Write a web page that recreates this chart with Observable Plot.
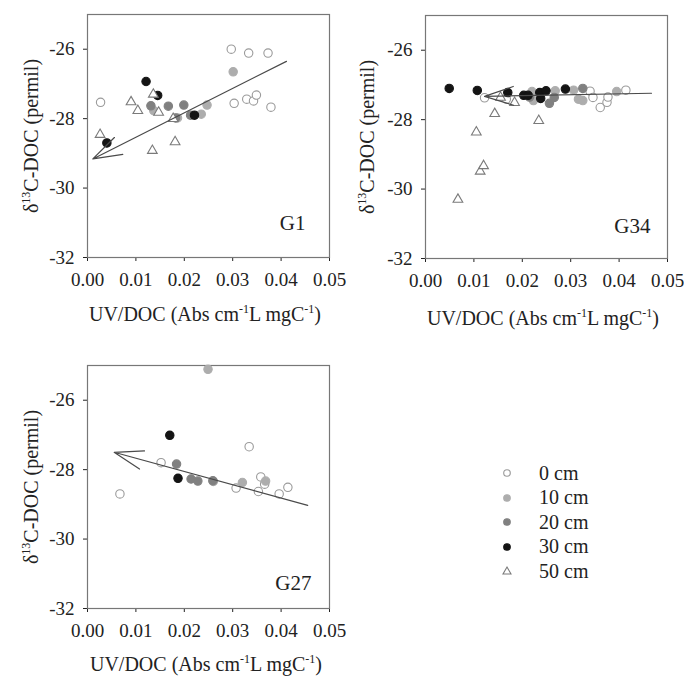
<!DOCTYPE html>
<html>
<head>
<meta charset="utf-8">
<script src="https://cdn.jsdelivr.net/npm/d3@7"></script>
<script src="https://cdn.jsdelivr.net/npm/@observablehq/plot@0.6"></script>
<style>
  body { margin: 0; background: white; }
  #wrap { position: relative; width: 684px; height: 679px; font-family: "Liberation Serif", "Times New Roman", serif; color: #222; }
  #wrap svg { position: absolute; overflow: visible; }
  .ytitle { position: absolute; white-space: nowrap; font-size: 20px; transform: translate(-50%, -50%) rotate(-90deg); }
  .xtitle { position: absolute; white-space: nowrap; font-size: 20px; transform: translate(-50%, -50%); }
  sup { font-size: 0.6em; vertical-align: 0.6em; line-height: 0; }
  .leg { position: absolute; left: 500px; top: 461px; font-size: 20px; }
  .leg div { height: 24.5px; display: flex; align-items: center; }
  .leg svg { position: static !important; margin-right: 25px; }
</style>
</head>
<body>
<div id="wrap"></div>
<script>
// ---- data ----
const depthLabels = ["0 cm", "10 cm", "20 cm", "30 cm", "50 cm"];
const xTicks = [0, 0.01, 0.02, 0.03, 0.04, 0.05];
const yTicks = [-32, -30, -28, -26];

// Panel G1
const g1Depth = ["0 cm","0 cm","0 cm","0 cm","0 cm","0 cm","0 cm","0 cm","0 cm",
  "10 cm","10 cm","10 cm","10 cm","10 cm",
  "20 cm","20 cm","20 cm","20 cm","20 cm",
  "30 cm","30 cm","30 cm","30 cm",
  "50 cm","50 cm","50 cm","50 cm","50 cm","50 cm","50 cm","50 cm"];
const g1X = [0.0027,0.0297,0.0333,0.0373,0.0303,0.0329,0.0343,0.0349,0.0379,
  0.0301,0.0247,0.0235,0.0137,0.0186,
  0.0131,0.0167,0.0199,0.0213,0.0182,
  0.0121,0.0145,0.0040,0.0221,
  0.0026,0.0090,0.0104,0.0136,0.0147,0.0134,0.0181,0.0177];
const g1Y = [-27.53,-26.00,-26.11,-26.11,-27.56,-27.44,-27.49,-27.32,-27.67,
  -26.65,-27.61,-27.87,-27.77,-27.98,
  -27.63,-27.64,-27.61,-27.90,-27.98,
  -26.93,-27.33,-28.70,-27.90,
  -28.46,-27.52,-27.77,-27.30,-27.82,-28.92,-28.67,-28.00];
const g1Line = [0.0411, -26.35, 0.0011, -29.16]; // x1, y1, x2 (arrow tip), y2

// Panel G34
const g34Depth = ["0 cm","0 cm","0 cm","0 cm","0 cm","0 cm","0 cm","0 cm",
  "10 cm","10 cm","10 cm","10 cm","10 cm","10 cm","10 cm",
  "20 cm","20 cm","20 cm","20 cm",
  "30 cm","30 cm","30 cm","30 cm","30 cm","30 cm","30 cm","30 cm","30 cm",
  "50 cm","50 cm","50 cm","50 cm","50 cm","50 cm","50 cm","50 cm"];
const g34X = [0.0122,0.0167,0.0340,0.0346,0.0361,0.0375,0.0377,0.0414,
  0.0220,0.0223,0.0268,0.0306,0.0316,0.0325,0.0395,
  0.0256,0.0266,0.0325,0.0215,
  0.0049,0.0107,0.0170,0.0203,0.0212,0.0236,0.0249,0.0238,0.0289,
  0.0067,0.0105,0.0113,0.0120,0.0143,0.0184,0.0234,0.0155];
const g34Y = [-27.37,-27.41,-27.18,-27.36,-27.65,-27.50,-27.35,-27.15,
  -27.19,-27.45,-27.17,-27.15,-27.41,-27.45,-27.19,
  -27.53,-27.36,-27.10,-27.35,
  -27.10,-27.16,-27.22,-27.30,-27.30,-27.22,-27.17,-27.39,-27.12,
  -30.30,-28.36,-29.49,-29.33,-27.83,-27.51,-28.03,-27.36];
const g34Line = [0.0467, -27.24, 0.0122, -27.33];

// Panel G27
const g27Depth = ["0 cm","0 cm","0 cm","0 cm","0 cm","0 cm","0 cm","0 cm","0 cm",
  "10 cm","10 cm","10 cm","10 cm",
  "20 cm","20 cm","20 cm","20 cm",
  "30 cm","30 cm"];
const g27X = [0.0067,0.0152,0.0334,0.0307,0.0353,0.0358,0.0366,0.0396,0.0414,
  0.0249,0.0260,0.0320,0.0368,
  0.0184,0.0214,0.0228,0.0259,
  0.0170,0.0187];
const g27Y = [-28.70,-27.80,-27.34,-28.53,-28.63,-28.21,-28.42,-28.70,-28.51,
  -25.11,-28.34,-28.37,-28.33,
  -27.84,-28.27,-28.33,-28.32,
  -27.01,-28.25];
const g27Line = [0.0455, -29.03, 0.0055, -27.50];

// ---- styles ----
const depthFill = {"0 cm": "white", "10 cm": "#adadad", "20 cm": "#808080", "30 cm": "#141414", "50 cm": "white"};
const depthStroke = {"0 cm": "#9a9a9a", "10 cm": "#adadad", "20 cm": "#808080", "30 cm": "#141414", "50 cm": "#7a7a7a"};

function rows(D, X, Y) { return D.map((d, i) => ({depth: d, x: X[i], y: Y[i]})); }

function panel(name, data, line, opts) {
  const circles = data.filter(d => d.depth !== "50 cm");
  const tris = data.filter(d => d.depth === "50 cm");
  const seg = [{x1: line[0], y1: line[1], x2: line[2], y2: line[3]}];
  return Plot.plot({
    width: opts.width, height: 297,
    marginLeft: 87, marginRight: opts.width - 87 - 242, marginTop: 14, marginBottom: 40,
    style: {fontFamily: "'Liberation Serif', 'Times New Roman', serif", fontSize: "19px", color: "#222", background: "transparent", overflow: "visible"},
    x: {domain: [0, 0.05], ticks: xTicks, tickFormat: d3.format(".2f"), label: null, tickSize: 4, tickPadding: 11},
    y: {domain: [-32, -25], ticks: yTicks, tickFormat: d => String(d), label: null, tickSize: 4, tickPadding: 9},
    marks: [
      Plot.frame({stroke: "#777", strokeWidth: 1.2}),
      Plot.dot(circles, {x: "x", y: "y", r: 4.2, fill: d => depthFill[d.depth], stroke: d => depthStroke[d.depth], strokeWidth: 1.1}),
      Plot.dot(tris, {x: "x", y: "y", r: 3.6, symbol: "triangle", fill: "white", stroke: depthStroke["50 cm"], strokeWidth: 1.1}),
      Plot.arrow(seg, {x1: "x1", y1: "y1", x2: "x2", y2: "y2", stroke: "#4a4a4a", strokeWidth: 1.2, headLength: 38, headAngle: 36, bend: 0}),
      Plot.text([name], {frameAnchor: "bottom-right", text: d => d, dx: opts.ldx, dy: opts.ldy, fontSize: 21, fill: "#222", textAnchor: "end", lineAnchor: "bottom"})
    ]
  });
}

const wrap = document.getElementById("wrap");
function place(svg, left, top) { svg.style.left = left + "px"; svg.style.top = top + "px"; wrap.appendChild(svg); }

place(panel("G1", rows(g1Depth, g1X, g1Y), g1Line, {width: 360, ldx: -24, ldy: -28}), 0, 0);
place(panel("G34", rows(g34Depth, g34X, g34Y), g34Line, {width: 346, ldx: -17, ldy: -26}), 338, 1);
place(panel("G27", rows(g27Depth, g27X, g27Y), g27Line, {width: 360, ldx: -18, ldy: -19}), 0, 351);

const yTitle = 'δ<sup>13</sup>C-DOC (permil)';
const xTitle = 'UV/DOC (Abs cm<sup>-1</sup>L mgC<sup>-1</sup>)';
function addText(cls, html, x, y) {
  const d = document.createElement("div"); d.className = cls; d.innerHTML = html;
  d.style.left = x + "px"; d.style.top = y + "px"; wrap.appendChild(d);
}
addText("ytitle", yTitle, 31, 136);
addText("ytitle", yTitle, 367, 137);
addText("ytitle", yTitle, 31, 487);
addText("xtitle", xTitle, 205, 314);
addText("xtitle", xTitle, 543, 318);
addText("xtitle", xTitle, 206, 664);

// legend
const leg = document.createElement("div"); leg.className = "leg";
depthLabels.forEach(lab => {
  const row = document.createElement("div");
  const shape = lab === "50 cm"
    ? `<polygon points="7,3 11,10 3,10" fill="white" stroke="${depthStroke[lab]}" stroke-width="1.1"/>`
    : `<circle cx="7" cy="7" r="3.3" fill="${depthFill[lab]}" stroke="${depthStroke[lab]}" stroke-width="1.1"/>`;
  row.innerHTML = `<svg width="14" height="14">${shape}</svg><span>${lab}</span>`;
  leg.appendChild(row);
});
wrap.appendChild(leg);
</script>
</body>
</html>
